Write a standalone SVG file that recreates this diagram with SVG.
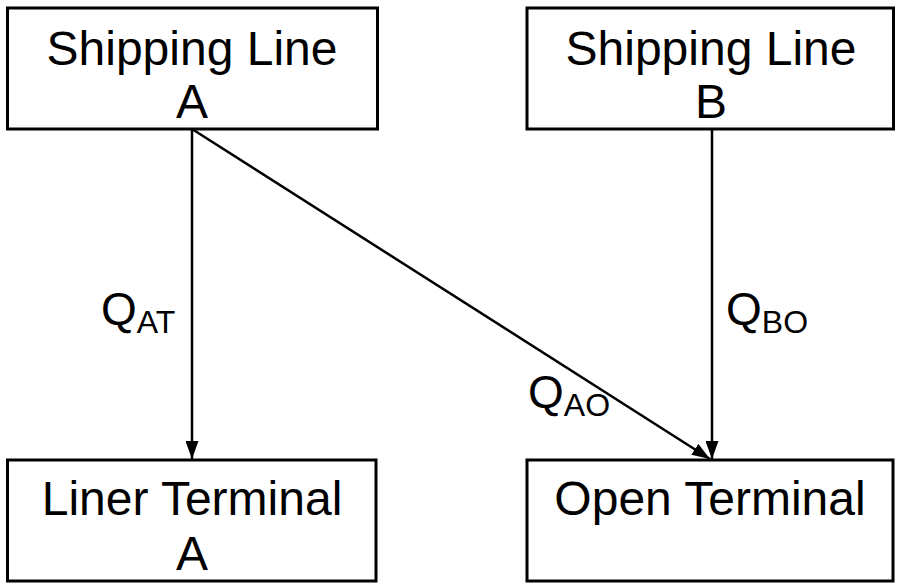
<svg xmlns="http://www.w3.org/2000/svg" width="898" height="583" viewBox="0 0 898 583">
<style>
.box{fill:#fff;stroke:#000;stroke-width:3}
.t{font-family:"Liberation Sans",Arial,sans-serif;font-size:48px;fill:#000;text-anchor:middle}
.q{font-family:"Liberation Sans",Arial,sans-serif;font-size:46px;fill:#000}
.sub{font-size:32px}
.edge{stroke:#000;stroke-width:2.5;fill:none}
</style>
<defs>
<marker id="ah" viewBox="0 0 18 13" refX="18" refY="6.5" markerWidth="18" markerHeight="13" markerUnits="userSpaceOnUse" orient="auto">
<path d="M0,0 L18,6.5 L0,13 z" fill="#000"/>
</marker>
</defs>
<g id="connectors">
<line class="edge" x1="192" y1="129" x2="192" y2="459" marker-end="url(#ah)"/>
<line class="edge" x1="192" y1="129" x2="710" y2="459" marker-end="url(#ah)"/>
<line class="edge" x1="712" y1="129" x2="712" y2="459" marker-end="url(#ah)"/>
<text class="q" x="101" y="325">Q<tspan class="sub" dy="8">AT</tspan></text>
<text class="q" x="726" y="325">Q<tspan class="sub" dy="8">BO</tspan></text>
<text class="q" x="528" y="408">Q<tspan class="sub" dy="8">AO</tspan></text>
</g>
<g id="shippingA">
<rect class="box" x="7.5" y="8" width="370" height="121"/>
<text class="t" x="192" y="65">Shipping Line</text>
<text class="t" x="192" y="118">A</text>
</g>
<g id="shippingB">
<rect class="box" x="527" y="8" width="366.5" height="121"/>
<text class="t" x="711" y="65">Shipping Line</text>
<text class="t" x="711" y="118">B</text>
</g>
<g id="linerA">
<rect class="box" x="7.5" y="460" width="368.5" height="121"/>
<text class="t" x="192" y="515">Liner Terminal</text>
<text class="t" x="192" y="570">A</text>
</g>
<g id="open">
<rect class="box" x="527" y="460" width="366" height="121"/>
<text class="t" x="710" y="515">Open Terminal</text>
</g>
</svg>
